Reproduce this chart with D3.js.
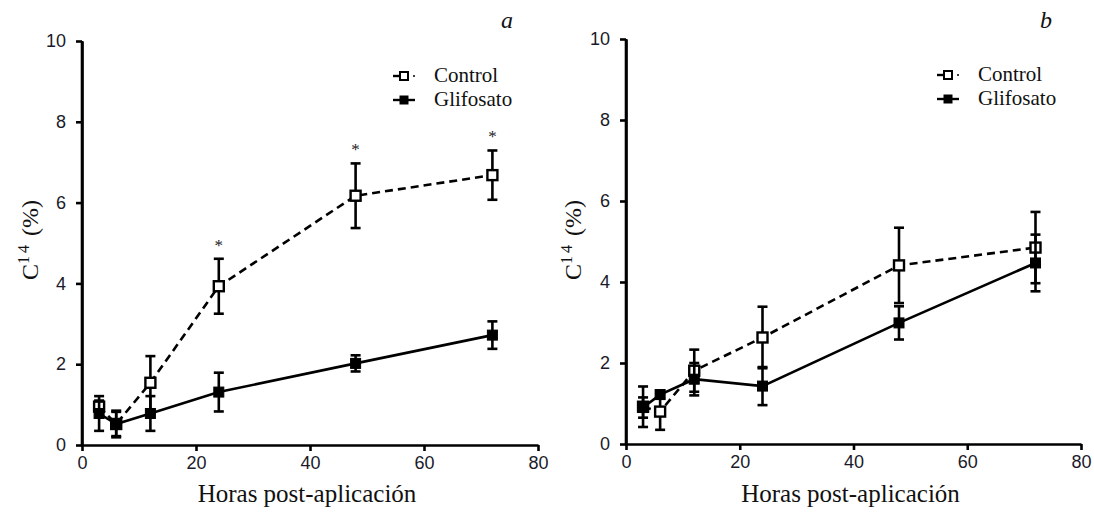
<!DOCTYPE html>
<html>
<head>
<meta charset="utf-8">
<script src="https://cdn.jsdelivr.net/npm/d3@7/dist/d3.min.js"></script>
<style>
  html, body { margin: 0; padding: 0; background: #fff; }
  svg { display: block; }
</style>
</head>
<body>
<svg id="chart" width="1094" height="513"></svg>
<script>
// Sampling times (hours after application)
const hours = [3, 6, 12, 24, 48, 72];

// Panel a: C14 (%) means and error
const controlA    = [0.95, 0.52, 1.54, 3.93, 6.17, 6.68];
const controlAErr = [0.15, 0.30, 0.66, 0.68, 0.80, 0.61];
const glifoA      = [0.78, 0.52, 0.78, 1.31, 2.02, 2.72];
const glifoAErr   = [0.43, 0.33, 0.43, 0.48, 0.20, 0.34];
// significance marks (indices into hours) for panel a
const signifA = [3, 4, 5];

// Panel b: C14 (%) means and error
const controlB    = [0.92, 0.80, 1.81, 2.63, 4.41, 4.85];
const controlBErr = [0.50, 0.45, 0.52, 0.76, 0.93, 0.88];
const glifoB      = [0.90, 1.22, 1.60, 1.43, 2.99, 4.47];
const glifoBErr   = [0.25, 0.10, 0.40, 0.47, 0.41, 0.70];
const signifB = [];

// Axis ticks and labels
const xTicks = [0, 20, 40, 60, 80];
const yTicks = [0, 2, 4, 6, 8, 10];
const seriesNames = ["Control", "Glifosato"];
const panelLetters = ["a", "b"];
const xTitle = "Horas post-aplicación";

const svg = d3.select("#chart");
const sans = "'Liberation Sans', Arial, sans-serif";
const serif = "'Liberation Serif', 'Times New Roman', serif";

function drawPanel(cfg) {
  const x = d3.scaleLinear().domain([0, 80]).range([cfg.left, cfg.right]);
  const y = d3.scaleLinear().domain([0, 10]).range([cfg.bottom, cfg.top]);
  const g = svg.append("g");

  // axes
  const xAxis = g.append("g").attr("transform", `translate(0,${cfg.bottom})`)
    .call(d3.axisBottom(x).tickValues(xTicks).tickSize(6).tickSizeOuter(0).tickPadding(5));
  const yAxis = g.append("g").attr("transform", `translate(${cfg.left},0)`)
    .call(d3.axisLeft(y).tickValues(yTicks).tickSize(6).tickSizeOuter(0).tickPadding(10));
  [xAxis, yAxis].forEach(a => {
    a.select(".domain").attr("stroke", "#000").attr("stroke-width", 2.6);
    a.selectAll(".tick line").attr("stroke", "#000").attr("stroke-width", 2.6);
    a.selectAll(".tick text").attr("fill", "#1a1a2a").style("font-family", sans).style("font-size", "18px");
  });
  // extend y axis down to meet x axis
  g.append("line").attr("x1", cfg.left).attr("x2", cfg.left)
    .attr("y1", cfg.top).attr("y2", cfg.bottom + 1.3)
    .attr("stroke", "#000").attr("stroke-width", 2.6);

  // axis titles
  g.append("text")
    .attr("x", (cfg.left + cfg.right) / 2 - 3).attr("y", 502)
    .attr("text-anchor", "middle")
    .style("font-family", serif).style("font-size", "25px").attr("fill", "#111")
    .text(xTitle);

  const yt = g.append("text")
    .attr("transform", `translate(${cfg.yTitleX},${cfg.yTitleY}) rotate(-90)`)
    .attr("text-anchor", "middle")
    .style("font-family", serif).style("font-size", "24px").attr("fill", "#111");
  yt.append("tspan").text("C");
  yt.append("tspan").attr("dy", "-9").style("font-size", "16px").attr("letter-spacing", "3").text("14");
  yt.append("tspan").attr("dy", "9").text(" (%)");

  // panel letter
  g.append("text").attr("x", cfg.letterX).attr("y", 28)
    .style("font-family", serif).style("font-style", "italic").style("font-size", "24px")
    .attr("fill", "#111").text(cfg.letter);

  const line = d3.line().x(d => x(d.h)).y(d => y(d.v));
  const toPts = (vals, errs) => hours.map((h, i) => ({ h, v: vals[i], e: errs[i] }));
  const ctrl = toPts(cfg.control, cfg.controlErr);
  const gli = toPts(cfg.glifo, cfg.glifoErr);

  function drawSeries(pts, dashed, filled) {
    const s = g.append("g");
    s.append("path").datum(pts).attr("d", line)
      .attr("fill", "none").attr("stroke", "#000").attr("stroke-width", 2.6)
      .attr("stroke-dasharray", dashed ? "8,5" : null);
    const cap = 5;
    const eb = s.selectAll(".eb").data(pts).enter().append("g");
    eb.append("line").attr("x1", d => x(d.h)).attr("x2", d => x(d.h))
      .attr("y1", d => y(d.v - d.e)).attr("y2", d => y(d.v + d.e));
    eb.append("line").attr("x1", d => x(d.h) - cap).attr("x2", d => x(d.h) + cap)
      .attr("y1", d => y(d.v + d.e)).attr("y2", d => y(d.v + d.e));
    eb.append("line").attr("x1", d => x(d.h) - cap).attr("x2", d => x(d.h) + cap)
      .attr("y1", d => y(d.v - d.e)).attr("y2", d => y(d.v - d.e));
    eb.selectAll("line").attr("stroke", "#000").attr("stroke-width", 2.6);
    const sz = 10;
    s.selectAll(".mk").data(pts).enter().append("rect")
      .attr("x", d => x(d.h) - sz / 2).attr("y", d => y(d.v) - sz / 2)
      .attr("width", sz).attr("height", sz)
      .attr("fill", filled ? "#000" : "#fff")
      .attr("stroke", "#000").attr("stroke-width", filled ? 1 : 2.4);
  }
  drawSeries(ctrl, true, false);
  drawSeries(gli, false, true);

  // significance asterisks above the control error bars
  g.selectAll(".ast").data(cfg.signif).enter().append("text")
    .attr("x", i => x(hours[i])).attr("y", i => y(ctrl[i].v + ctrl[i].e) - 8)
    .attr("text-anchor", "middle")
    .style("font-family", serif).style("font-size", "17px").attr("fill", "#222")
    .text("*");

  // legend
  const lg = g.append("g");
  const rows = [
    { name: seriesNames[0], dashed: true, filled: false, y: cfg.legendY },
    { name: seriesNames[1], dashed: false, filled: true, y: cfg.legendY + 24 }
  ];
  rows.forEach(r => {
    const lx = cfg.legendX;
    lg.append("line").attr("x1", lx).attr("x2", lx + (r.dashed ? 16 : 22))
      .attr("y1", r.y).attr("y2", r.y).attr("stroke", "#000").attr("stroke-width", 2.4);
    if (r.dashed) {
      lg.append("line").attr("x1", lx + 20).attr("x2", lx + 22)
        .attr("y1", r.y).attr("y2", r.y).attr("stroke", "#000").attr("stroke-width", 1.6);
    }
    lg.append("rect").attr("x", lx + 7).attr("y", r.y - 4).attr("width", 8).attr("height", 8)
      .attr("fill", r.filled ? "#000" : "#fff").attr("stroke", "#000").attr("stroke-width", r.filled ? 1 : 2);
    lg.append("text").attr("x", lx + 41).attr("y", r.y + 6)
      .style("font-family", serif).style("font-size", "21px").attr("fill", "#111")
      .text(r.name);
  });
}

drawPanel({
  left: 82, right: 538, top: 41, bottom: 445,
  control: controlA, controlErr: controlAErr, glifo: glifoA, glifoErr: glifoAErr,
  signif: signifA, letter: panelLetters[0], letterX: 501,
  yTitleX: 38, yTitleY: 240, legendX: 393, legendY: 76
});
drawPanel({
  left: 626, right: 1081, top: 39, bottom: 444,
  control: controlB, controlErr: controlBErr, glifo: glifoB, glifoErr: glifoBErr,
  signif: signifB, letter: panelLetters[1], letterX: 1040,
  yTitleX: 581, yTitleY: 240, legendX: 937, legendY: 75
});
</script>
</body>
</html>
